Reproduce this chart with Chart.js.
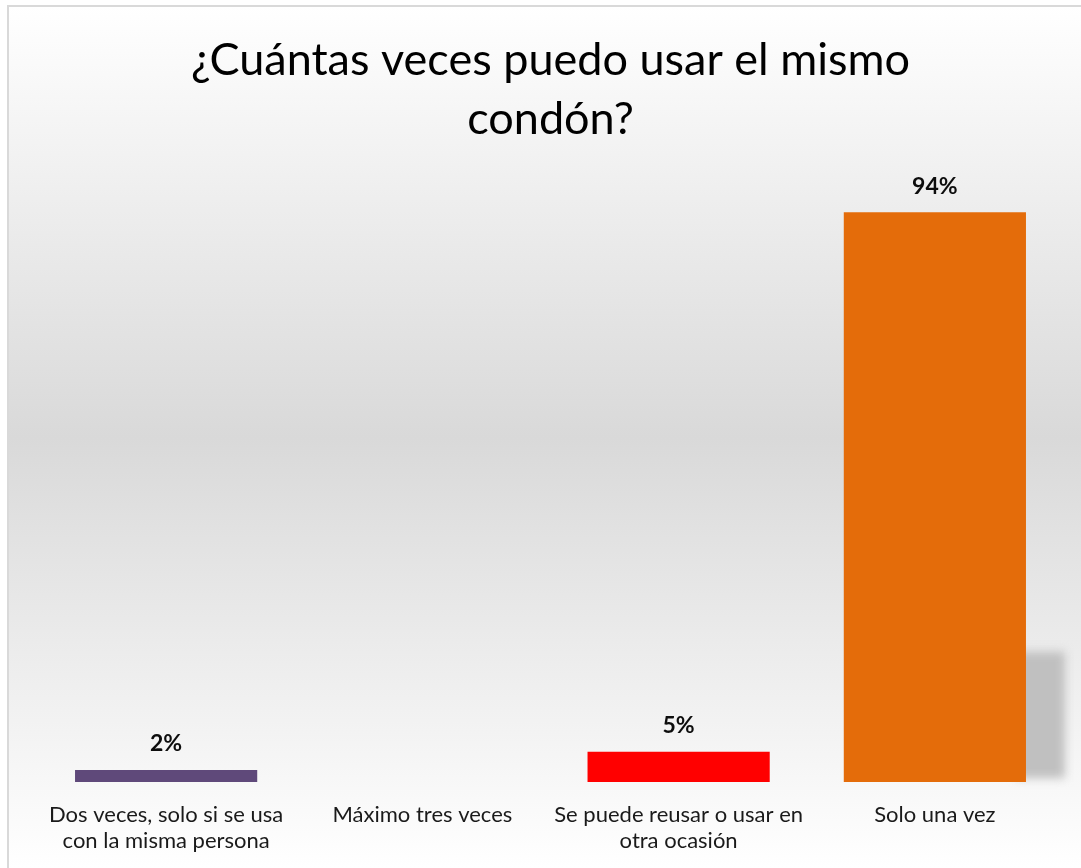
<!DOCTYPE html>
<html><head><meta charset="utf-8">
<script src="https://cdn.jsdelivr.net/npm/chart.js@4.4.0/dist/chart.umd.min.js"></script>
<style>html,body{margin:0;padding:0;background:#fff}#wrap{width:1081px;height:868px;position:relative}</style>
</head><body><div id="wrap"><canvas id="c" width="1081" height="868"></canvas></div>
<script>
const titleLines = ["¿Cuántas veces puedo usar el mismo", "condón?"];
const categories = [
  ["Dos veces, solo si se usa", "con la misma persona"],
  ["Máximo tres veces"],
  ["Se puede reusar o usar en", "otra ocasión"],
  ["Solo una vez"]
];
const values = [2, 0, 5, 94];
const valueLabels = ["2%", "", "5%", "94%"];
const barColors = ["#5f497a", "#5f497a", "#ff0000", "#e46c0a"];

const bgPlugin = {
  id: 'bg',
  beforeDraw(chart) {
    const ctx = chart.ctx, w = chart.width, h = chart.height;
    ctx.save();
    ctx.fillStyle = '#ffffff';
    ctx.fillRect(0, 0, w, h);
    const g = ctx.createLinearGradient(0, 6, 0, h);
    g.addColorStop(0, '#ffffff');
    g.addColorStop(0.5, '#d9d9d9');
    g.addColorStop(1, '#ffffff');
    ctx.fillStyle = g;
    ctx.fillRect(8, 6, w - 8, h - 6);
    ctx.strokeStyle = '#d9d9d9';
    ctx.lineWidth = 2;
    ctx.beginPath();
    ctx.moveTo(8, h); ctx.lineTo(8, 6); ctx.lineTo(w, 6);
    ctx.stroke();
    ctx.restore();
  }
};

const shadowPlugin = {
  id: 'shadow',
  beforeDatasetsDraw(chart) {
    const meta = chart.getDatasetMeta(0);
    const bar = meta.data[3];
    if (!bar) return;
    const p = bar.getProps(['x', 'y', 'base', 'width'], true);
    const ctx = chart.ctx;
    const right = p.x + p.width / 2;
    const yTop = chart.scales.y.getPixelForValue(21.5);
    ctx.save();
    ctx.filter = 'blur(5px)';
    ctx.fillStyle = '#c0c0c0';
    ctx.fillRect(right - 10, yTop, 49, p.base - yTop - 4);
    ctx.restore();
  }
};

const labelPlugin = {
  id: 'vlabels',
  afterDatasetsDraw(chart) {
    const meta = chart.getDatasetMeta(0);
    const ctx = chart.ctx;
    ctx.save();
    ctx.font = 'bold 23px Lato, "Open Sans", sans-serif';
    ctx.fillStyle = '#0d0d0d';
    ctx.textAlign = 'center';
    ctx.textBaseline = 'middle';
    meta.data.forEach((b, i) => {
      if (!valueLabels[i]) return;
      ctx.fillText(valueLabels[i], b.x, b.y - 26);
    });
    ctx.restore();
  }
};

new Chart(document.getElementById('c'), {
  type: 'bar',
  data: {
    labels: categories,
    datasets: [{
      data: values,
      backgroundColor: barColors,
      borderWidth: 0,
      categoryPercentage: 1,
      barPercentage: 0.711
    }]
  },
  options: {
    responsive: false,
    animation: false,
    devicePixelRatio: 1,
    layout: { padding: { left: 38, right: 18, top: 0, bottom: -6 } },
    plugins: {
      legend: { display: false },
      tooltip: { enabled: false },
      title: {
        display: true,
        text: titleLines,
        color: '#000000',
        font: { family: 'Lato, "Open Sans", sans-serif', size: 45, weight: 'normal', lineHeight: 1.333 },
        padding: { top: 30, bottom: 26 }
      }
    },
    scales: {
      x: {
        grid: { display: false, drawTicks: false },
        border: { display: false },
        ticks: {
          color: '#1a1a1a',
          padding: 20,
          maxRotation: 0,
          autoSkip: false,
          font: { family: 'Lato, "Open Sans", sans-serif', size: 22, lineHeight: 1.18 }
        }
      },
      y: { display: false, min: 0, max: 100 }
    }
  },
  plugins: [bgPlugin, shadowPlugin, labelPlugin]
});
</script></body></html>
